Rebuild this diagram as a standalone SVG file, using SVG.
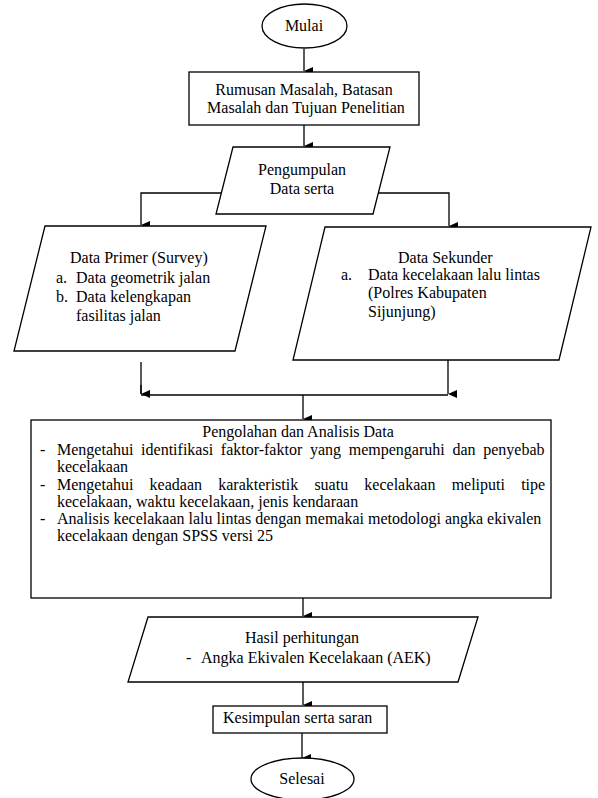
<svg xmlns="http://www.w3.org/2000/svg" width="598" height="798" viewBox="0 0 598 798">
<defs>
<marker id="ah" markerUnits="userSpaceOnUse" markerWidth="8" markerHeight="9" refX="4" refY="9" orient="auto-start-reverse" viewBox="0 0 8 9">
<path d="M0,0 L8,0 L4,9 Z" fill="#000"/>
</marker>
<style>
.s{fill:#fff;stroke:#000;stroke-width:1.3}
.c{fill:none;stroke:#000;stroke-width:1.3}
text{font-family:"Liberation Serif","Times New Roman",serif;font-size:16px;fill:#000}
.m{text-anchor:middle}
</style>
</defs>
<rect width="598" height="798" fill="#fff"/>
<g id="connectors">
<path class="c" d="M304,49 V71" marker-end="url(#ah)"/>
<path class="c" d="M304,125 V146" marker-end="url(#ah)"/>
<path class="c" d="M221,193 H141 V225" marker-end="url(#ah)"/>
<path class="c" d="M378,193 H449 V226" marker-end="url(#ah)"/>
<path class="c" d="M141,362 V394"/>
<path class="c" d="M141,385 V394" marker-end="url(#ah)"/>
<path class="c" d="M448,360 V394" marker-end="url(#ah)"/>
<path class="c" d="M141,395 H448"/>
<path class="c" d="M303,395 V419" marker-end="url(#ah)"/>
<path class="c" d="M303,598 V616" marker-end="url(#ah)"/>
<path class="c" d="M303,682 V705" marker-end="url(#ah)"/>
<path class="c" d="M302,733 V758" marker-end="url(#ah)"/>
</g>
<g id="mulai">
<ellipse class="s" cx="304.5" cy="26" rx="42.5" ry="22"/>
<text class="m" x="304" y="31">Mulai</text>
</g>
<g id="rumusan">
<rect class="s" x="189" y="72" width="230" height="53"/>
<text class="m" x="304" y="95">Rumusan Masalah, Batasan</text>
<text class="m" x="306" y="113">Masalah dan Tujuan Penelitian</text>
</g>
<g id="pengumpulan">
<polygon class="s" points="233,147 390,147 373,214 216,214"/>
<text class="m" x="302" y="175">Pengumpulan</text>
<text class="m" x="302" y="194">Data serta</text>
</g>
<g id="data-primer">
<polygon class="s" points="45,226 266,226 235,351 14,351"/>
<text x="70" y="263">Data Primer (Survey)</text>
<text x="56" y="283">a.</text>
<text x="76" y="283">Data geometrik jalan</text>
<text x="56" y="302">b.</text>
<text x="76" y="302">Data kelengkapan</text>
<text x="76" y="321">fasilitas jalan</text>
</g>
<g id="data-sekunder">
<polygon class="s" points="325,227 591,227 559,360 293,360"/>
<text x="398" y="263">Data Sekunder</text>
<text x="341" y="280">a.</text>
<text x="368" y="280">Data kecelakaan lalu lintas</text>
<text x="368" y="298">(Polres Kabupaten</text>
<text x="368" y="317">Sijunjung)</text>
</g>
<g id="pengolahan">
<rect class="s" x="31" y="420" width="520" height="178"/>
<text class="m" x="298" y="437">Pengolahan dan Analisis Data</text>
<text x="40" y="455">-</text>
<text x="57" y="455" style="word-spacing:3.7px">Mengetahui identifikasi faktor-faktor yang mempengaruhi dan penyebab</text>
<text x="57" y="472">kecelakaan</text>
<text x="40" y="490">-</text>
<text x="57" y="490" style="word-spacing:12.2px">Mengetahui keadaan karakteristik suatu kecelakaan meliputi tipe</text>
<text x="57" y="507">kecelakaan, waktu kecelakaan, jenis kendaraan</text>
<text x="40" y="524">-</text>
<text x="57" y="524">Analisis kecelakaan lalu lintas dengan memakai metodologi angka ekivalen</text>
<text x="57" y="541">kecelakaan dengan SPSS versi 25</text>
</g>
<g id="hasil">
<polygon class="s" points="148,617 478,617 458,682 128,682"/>
<text class="m" x="302" y="643">Hasil perhitungan</text>
<text x="186" y="663">-</text>
<text x="201" y="663">Angka Ekivalen Kecelakaan (AEK)</text>
</g>
<g id="kesimpulan">
<rect class="s" x="213" y="706" width="174" height="27"/>
<text x="223" y="723">Kesimpulan serta saran</text>
</g>
<g id="selesai">
<ellipse class="s" cx="302.5" cy="779" rx="51.5" ry="21"/>
<text class="m" x="302" y="784">Selesai</text>
</g>
</svg>
